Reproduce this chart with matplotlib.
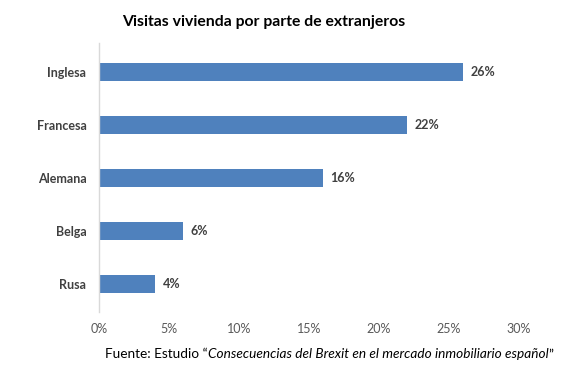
import matplotlib
matplotlib.use("Agg")
import matplotlib.pyplot as plt

categories = ["Inglesa", "Francesa", "Alemana", "Belga", "Rusa"]
values = [26, 22, 16, 6, 4]
xticks = [0, 5, 10, 15, 20, 25, 30]
xtick_labels = ["0%", "5%", "10%", "15%", "20%", "25%", "30%"]

plt.rcParams['font.family'] = ['Lato', 'DejaVu Sans']

fig = plt.figure(figsize=(5.66, 3.73), dpi=100)
ax = fig.add_axes([99/566, 1-312/373, 420/566, 269/373])

ypos = list(range(len(categories)))
ax.barh(ypos, values, height=0.34, color="#4F81BD")
ax.set_ylim(4.53, -0.55)
ax.set_xlim(0, 30)
ax.set_yticks(ypos)
ax.set_yticklabels(categories, fontsize=9, fontweight='bold', color='#404040')
ax.set_xticks(xticks)
ax.set_xticklabels(xtick_labels, fontsize=9, color='#595959')
ax.tick_params(axis='both', length=0)
ax.tick_params(axis='y', pad=9)
ax.tick_params(axis='x', pad=8)
for s in ['top', 'right', 'bottom']:
    ax.spines[s].set_visible(False)
ax.spines['left'].set_color('#D9D9D9')
ax.spines['left'].set_linewidth(1)

for y, v in zip(ypos, values):
    ax.annotate(f"{v}%", (v, y), xytext=(5.5, 0), textcoords='offset points',
                va='center', ha='left', fontsize=9, fontweight='bold', color='#404040')

fig.text(264/566, 1-22/373, "Visitas vivienda por parte de extranjeros",
         ha='center', va='center', fontsize=11.3, fontweight='bold', color='black')

# Footer with mixed styles
pieces = [("Fuente: Estudio \u201c", 'normal'),
          ("Consecuencias del Brexit en el mercado inmobiliario espa\u00f1ol", 'italic'),
          ("\u201d", 'normal')]
fig.canvas.draw()
renderer = fig.canvas.get_renderer()
x = 105 / 566
ypix = 1 - 354 / 373
for txt, style in pieces:
    t = fig.text(x, ypix, txt, ha='left', va='center', fontsize=9.8,
                 style=style, color='black')
    bb = t.get_window_extent(renderer=renderer)
    x += bb.width / fig.bbox.width

fig.savefig("out.png", dpi=100)
